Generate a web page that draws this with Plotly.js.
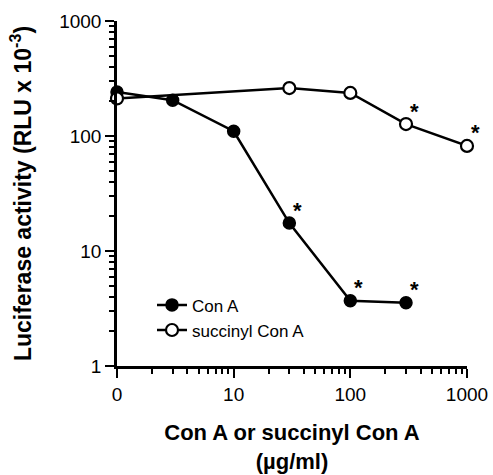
<!DOCTYPE html>
<html>
<head>
<meta charset="utf-8">
<script src="https://cdn.plot.ly/plotly-3.0.1.min.js"></script>
<style>html,body{margin:0;padding:0;background:#fff;}#chart{width:493px;height:475px;}</style>
</head>
<body>
<div id="chart"></div>
<script>
// Concentrations (µg/ml); "0" is plotted at the axis origin (1)
var conAX = [1, 3, 10, 30, 100, 300];
var conAY = [241, 205, 110, 17.5, 3.7, 3.55];
var conAStar = [false, false, false, true, true, true];

var sucX = [1, 30, 100, 300, 1000];
var sucY = [212, 261, 237, 127, 82];
var sucStar = [false, false, false, true, true];

// tick labels
var xTickVals = [1, 10, 100, 1000];
var xTickText = ["0", "10", "100", "1000"];
var yTickVals = [1, 10, 100, 1000];
var yTickText = ["1", "10", "100", "1000"];
var minorTickVals = [2,3,4,5,6,7,8,9,20,30,40,50,60,70,80,90,200,300,400,500,600,700,800,900];

var FONT = "Liberation Sans, Arial, sans-serif";

var traces = [
  {
    x: conAX, y: conAY, name: "Con A", type: "scatter", mode: "lines+markers",
    line: {color: "#000", width: 2.5},
    marker: {symbol: "circle", size: 12, color: "#000", line: {color: "#000", width: 1.5}},
    cliponaxis: false
  },
  {
    x: sucX, y: sucY, name: "succinyl Con A", type: "scatter", mode: "lines+markers",
    line: {color: "#000", width: 2.5},
    marker: {symbol: "circle", size: 12, color: "#fff", line: {color: "#000", width: 2.2}},
    cliponaxis: false
  }
];

// significance asterisks, placed at the flagged data points
var annotations = [];
function addStars(xs, ys, flags) {
  for (var i = 0; i < xs.length; i++) {
    if (!flags[i]) continue;
    annotations.push({
      x: Math.log10(xs[i]), y: Math.log10(ys[i]), xref: "x", yref: "y",
      text: "<b>*</b>", showarrow: false, xshift: 8, yshift: 13,
      font: {family: FONT, size: 22, color: "#000"}
    });
  }
}
addStars(conAX, conAY, conAStar);
addStars(sucX, sucY, sucStar);

function axis(tickvals, ticktext, title, titleSize, standoff) {
  return {
    type: "log", range: [0, 3],
    tickmode: "array", tickvals: tickvals, ticktext: ticktext,
    ticks: "outside", ticklen: 9, tickwidth: 2, tickcolor: "#000",
    minor: {tickmode: "array", tickvals: minorTickVals, ticks: "outside", ticklen: 5, tickwidth: 1.5, tickcolor: "#000", showgrid: false},
    showline: true, linecolor: "#000", linewidth: 2.5,
    showgrid: false, zeroline: false,
    tickfont: {family: FONT, size: 19, color: "#000"},
    title: {text: title, font: {family: FONT, size: titleSize, color: "#000"}, standoff: standoff}
  };
}

var layout = {
  width: 493, height: 475,
  margin: {l: 117, r: 26, t: 21, b: 109},
  paper_bgcolor: "#fff", plot_bgcolor: "#fff",
  font: {family: FONT, color: "#000", size: 18},
  showlegend: true,
  annotations: annotations,
  legend: {
    x: 0.1, y: 0.228, xanchor: "left", yanchor: "top",
    bgcolor: "rgba(0,0,0,0)", borderwidth: 0,
    font: {family: FONT, size: 17, color: "#000"},
    tracegroupgap: 0
  },
  xaxis: axis(xTickVals, xTickText, "<b>Con A or succinyl Con A<br>(\u00b5g/ml)</b>", 22, 22),
  yaxis: axis(yTickVals, yTickText, "<b>Luciferase activity (RLU x 10<sup>-3</sup>)</b>", 23, 22)
};

Plotly.newPlot("chart", traces, layout, {displayModeBar: false});
</script>
</body>
</html>
